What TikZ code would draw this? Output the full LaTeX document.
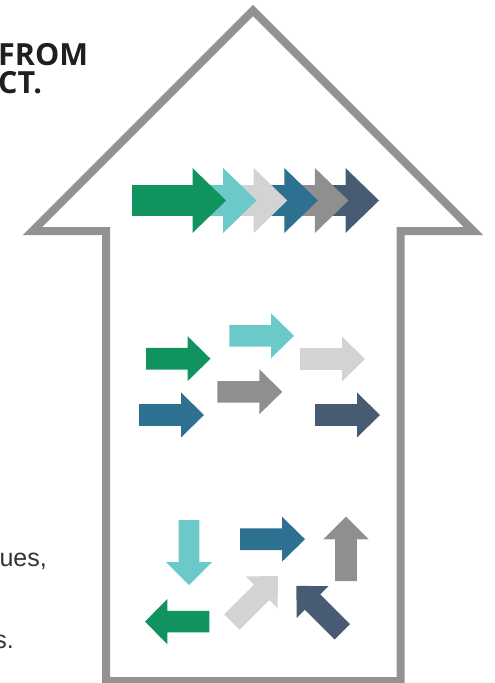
\documentclass[tikz,border=0pt]{standalone}
\usepackage{fontspec}
\usepackage{tikz}
\newfontfamily\titlefont{Open Sans}
\newfontfamily\bodyfont{Liberation Sans}

\definecolor{argreen}{HTML}{10935E}
\definecolor{arteal}{HTML}{6CC9CA}
\definecolor{arlgray}{HTML}{D3D3D3}
\definecolor{arblue}{HTML}{2E7090}
\definecolor{argray}{HTML}{8F8F8F}
\definecolor{arslate}{HTML}{475B72}
\definecolor{outlinegray}{HTML}{929292}

% block arrow along +x: length, half shaft, half head, head length
\newcommand{\arrowpath}[4]{(0,-#2) -- ({#1-#4},-#2) -- ({#1-#4},-#3) -- (#1,0) -- ({#1-#4},#3) -- ({#1-#4},#2) -- (0,#2) -- cycle}

\begin{document}
\begin{tikzpicture}[x=1pt,y=-1pt,
	outline/.style={draw=outlinegray,line width=8pt,miter limit=10},
	bigarr/.style={fill=#1},
	smallarr/.style={fill=#1},
	titletext/.style={anchor=base west,inner sep=0pt,text=black!88,font=\titlefont\bfseries\fontsize{30.5}{30.5}\selectfont},
	bodytext/.style={anchor=base east,inner sep=0pt,text=black!80,font=\bodyfont\fontsize{25}{25}\selectfont}]
		\useasboundingbox (0,0) rectangle (495,683);
		\clip (0,0) rectangle (495,683);
%		\draw[help lines,step=50] (0,0) grid (495,683);
		\path (253,10.5) coordinate (tip);
		\path (473.4,231) coordinate (rbarb);
		\path (400.7,231) coordinate (rneck);
		\path (400.7,681) coordinate (rfoot);
		\path (106,681) coordinate (lfoot);
		\path (106,231) coordinate (lneck);
		\path (32.5,231) coordinate (lbarb);

		% big outline arrow
		\draw[outline] (tip) -- (rbarb) -- (rneck) -- (rfoot) -- (lfoot) -- (lneck) -- (lbarb) -- cycle;

		% row of chevrons, back to front
		\foreach \i/\c in {5/arslate,4/argray,3/arblue,2/arlgray,1/arteal,0/argreen}
			\fill[bigarr=\c,shift={({132+30.6*\i},200.5)}] \arrowpath{94}{15.3}{32.5}{33.5};

		% scattered arrows, all going right
		\fill[smallarr=argreen,shift={(146,358.7)}] \arrowpath{64.5}{10.8}{22.5}{23};
		\fill[smallarr=arteal,shift={(229.3,335.8)}] \arrowpath{64.7}{10.8}{22.5}{23};
		\fill[smallarr=arlgray,shift={(300,359)}] \arrowpath{65}{10.8}{22.5}{23};
		\fill[smallarr=argray,shift={(217.3,391.8)}] \arrowpath{65}{10.8}{22.5}{23};
		\fill[smallarr=arblue,shift={(139,415)}] \arrowpath{65}{10.8}{22.5}{23};
		\fill[smallarr=arslate,shift={(315,415)}] \arrowpath{65}{10.8}{22.5}{23};

		% arrows going every way
		\fill[smallarr=arteal,shift={(189,520)},rotate=-90] \arrowpath{65}{10.3}{23}{23};
		\fill[smallarr=arblue,shift={(240,539.2)}] \arrowpath{65}{10.8}{22.5}{23};
		\fill[smallarr=argray,shift={(346,581)},rotate=90] \arrowpath{64.3}{10.8}{22.8}{22.6};
		\fill[smallarr=argreen,shift={(209.3,621.6)},rotate=180] \arrowpath{64.3}{10.7}{22.7}{22.4};
		\fill[smallarr=arlgray,shift={(232,622)},rotate=45] \arrowpath{65}{10.8}{22.5}{23};
		\fill[smallarr=arslate,shift={(342.3,631.8)},rotate=135] \arrowpath{65}{10.8}{22.5}{23};

		% text cut by the left edge
		\node[titletext] (from) at (-2,65) {FROM};
		\node[titletext] (ct) at (-2,93) {CT.};
		\node[bodytext] (ues) at (47,566.7) {ues,};
		\node[bodytext] (send) at (14,648) {s.};
	\end{tikzpicture}
\end{document}
